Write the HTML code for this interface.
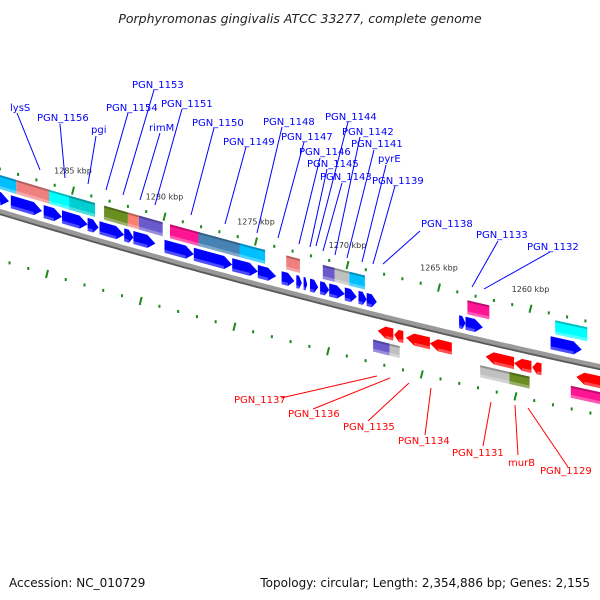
<!DOCTYPE html>
<html><head><meta charset="utf-8"><style>
html,body{margin:0;padding:0;background:#fff}
svg{display:block}
text{font-family:"DejaVu Sans","Liberation Sans",sans-serif}
</style></head><body>
<svg id="map" width="600" height="600" viewBox="0 0 600 600">
<text x="300" y="23" text-anchor="middle" font-size="12.5" font-style="italic" fill="#222">Porphyromonas gingivalis ATCC 33277, complete genome</text>
<text x="9" y="587" font-size="12" fill="#111">Accession: NC_010729</text>
<text x="590" y="587" text-anchor="end" font-size="12" fill="#111">Topology: circular; Length: 2,354,886 bp; Genes: 2,155</text>
<g id="g-back"></g><g id="g-genes"></g><g id="g-labels"></g>
</svg>
<script>
// forward-strand genes [start kbp, end kbp]
const fwdGenes=[[1289.5,1288.5],[1288.4,1286.7],[1286.6,1285.6],[1285.6,1284.2],[1284.2,1283.6],[1283.55,1282.2],[1282.2,1281.7],[1281.7,1280.5],[1280.0,1278.4],[1278.4,1276.3],[1276.3,1274.9],[1274.9,1273.9],[1273.6,1272.9],[1272.8,1272.5],[1272.4,1272.2],[1272.05,1271.6],[1271.5,1271.0],[1271.0,1270.15],[1270.15,1269.5],[1269.4,1268.95],[1268.95,1268.4],[1263.9,1263.55],[1263.55,1262.6],[1258.9,1257.2]];
// forward COG category boxes [start, end, colour]
const fwdCog=[[1289.5,1288.1,'#00bfff'],[1288.1,1286.2,'#f08080'],[1286.3,1285.1,'#00ffff'],[1285.2,1283.8,'#00ced1'],[1283.3,1282.0,'#6b8e23'],[1282.0,1281.4,'#fa8072'],[1281.4,1280.1,'#6a5acd'],[1279.7,1278.05,'#ff1493'],[1278.15,1275.9,'#4682b4'],[1275.9,1274.5,'#00bfff'],[1273.35,1272.6,'#f08080'],[1271.35,1270.7,'#6a5acd'],[1270.7,1269.9,'#c0c0c0'],[1269.9,1269.05,'#00bfff'],[1263.45,1262.25,'#ff1493'],[1258.65,1256.9,'#00ffff']];
// reverse-strand genes
const revGenes=[[1268.35,1267.5],[1267.45,1266.95],[1266.8,1265.5],[1265.5,1264.3],[1262.45,1260.9],[1260.9,1259.95],[1259.9,1259.4],[1257.5,1256.0]];
const revCog=[[1268.6,1267.7,'#6a5acd'],[1267.7,1267.15,'#c0c0c0'],[1262.75,1261.15,'#c0c0c0'],[1261.15,1260.05,'#6b8e23'],[1257.8,1256.0,'#ff1493']];
const tickStart=1256, tickEnd=1291;
const tickLabels=[1285,1280,1275,1270,1265,1260];

const NS='http://www.w3.org/2000/svg';
const X=k=>73+(1285-k)*18.3;
const XB=k=>{const x=X(k);return x-26+(x-73)*0.024;};
const C=x=>212+0.3017*x-7.2e-5*x*x;
function el(tag,attrs,parent){const e=document.createElementNS(NS,tag);for(const a in attrs)e.setAttribute(a,attrs[a]);parent.appendChild(e);return e;}
const back=document.getElementById('g-back'),gg=document.getElementById('g-genes'),gl=document.getElementById('g-labels');
// backbone
let d='';for(let x=-5;x<=605;x+=5)d+=(x<0?'M':'L')+x+','+C(x).toFixed(1);
const bb=el('path',{d:d,stroke:'#999','stroke-width':6,fill:'none'},back);


let d2='';for(let x=-5;x<=605;x+=5)d2+=(x<0?'M':'L')+x+','+(C(x)+2.2).toFixed(1);
el('path',{d:d2,stroke:'#5a5a5a','stroke-width':1.8,fill:'none'},back);
// ticks
for(let k=tickStart;k<=tickEnd;k++){
  const big=k%5===0;
  [[X(k),-43],[XB(k),48]].forEach(([x,o],i)=>{
    if(x<-3||x>603)return;
    const y=C(x)+o;
    const t=el('line',{x1:x+(big?-1:0),y1:y+(big?4:1.5),x2:x+(big?1:0),y2:y-(big?4:1.5),stroke:'#1a8a1a','stroke-width':2},back);
    
    
  });
}
tickLabels.forEach(k=>{
  const x=X(k);
  const t=el('text',{x:x,y:C(x)-60,'text-anchor':'middle','font-size':8,fill:'#333'},back);
  t.textContent=k+' kbp';
  
  
});
function box(x1,x2,o1,o2,fill,name,head){
  const h=head?Math.min(8,(x2-x1)*0.5):0;
  const m=(o1+o2)/2;let pts;
  if(head===1)pts=[[x1,o1],[x2-h,o1],[x2,m],[x2-h,o2],[x1,o2]];
  else if(head===-1)pts=[[x1+h,o1],[x2,o1],[x2,o2],[x1+h,o2],[x1,m]];
  else pts=[[x1,o1],[x2,o1],[x2,o2],[x1,o2]];
  const p=el('polygon',{points:pts.map(q=>q[0].toFixed(1)+','+(C(q[0])+q[1]).toFixed(1)).join(' '),fill:fill},gg);
  
  
  const a=x1+(head===-1?h:0),b=x2-(head===1?h:0);
  const s=[[a,o2-3],[b,o2-3],[b,o2],[a,o2]];
  el('polygon',{points:s.map(q=>q[0].toFixed(1)+','+(C(q[0])+q[1]).toFixed(1)).join(' '),fill:'rgba(255,255,255,0.3)'},gg);
  if(!head){
    const s2=[[a,o1],[b,o1],[b,o1+2],[a,o1+2]];
    el('polygon',{points:s2.map(q=>q[0].toFixed(1)+','+(C(q[0])+q[1]).toFixed(1)).join(' '),fill:'rgba(0,0,0,0.25)'},gg);
  }
}
fwdCog.forEach(g=>box(X(g[0]),X(g[1]),-37,-23,g[2],'forward-cog-box',0));
fwdGenes.forEach(g=>box(X(g[0]),X(g[1]),-20,-7,'#0000ff','forward-gene',1));
revGenes.forEach(g=>box(X(g[0]),X(g[1]),9,21,'#ff0000','reverse-gene',-1));
revCog.forEach(g=>box(X(g[0]),X(g[1]),25,37,g[2],'reverse-cog-box',0));
const blueLabels=[['lysS',10,111,17,113,40,170],['PGN_1156',37,121,60,124,65,178],['pgi',91,133,96,136,88,184],['PGN_1154',106,111,128,113,106,190],['PGN_1153',132,88,154,90,123,195],['rimM',149,131,160,133,140,200],['PGN_1151',161,107,182,109,155,205],['PGN_1150',192,126,214,128,191,215],['PGN_1149',223,145,246,147,225,224],['PGN_1148',263,125,282,127,257,233],['PGN_1147',281,140,304,142,278,238],['PGN_1146',299,155,320,158,299,244],['PGN_1145',307,167,327,169,310,247],['PGN_1143',320,180,342,183,323,251],['PGN_1144',325,120,348,122,316,246],['PGN_1142',342,135,360,137,335,255],['PGN_1141',351,147,374,150,347,258],['pyrE',378,162,386,165,362,262],['PGN_1139',372,184,395,186,373,264],['PGN_1138',421,227,420,231,383,264],['PGN_1133',476,238,498,241,472,287],['PGN_1132',527,250,550,252,484,289]];
const redLabels=[['PGN_1137',234,403,281,398,377,376],['PGN_1136',288,417,313,409,390,378],['PGN_1135',343,430,368,421,409,383],['PGN_1134',398,444,425,435,431,388],['PGN_1131',452,456,483,446,491,402],['murB',508,466,518,455,515,405],['PGN_1129',540,474,568,467,528,408]];
function lab(L,col){
  const ln=el('line',{x1:L[3],y1:L[4],x2:L[5],y2:L[6],stroke:col,'stroke-width':1},gl);
  
  
  const t=el('text',{x:L[1],y:L[2],'font-size':10,fill:col},gl);
  t.textContent=L[0];
  
  
}
blueLabels.forEach(L=>lab(L,'#0000ff'));
redLabels.forEach(L=>lab(L,'#ff0000'));
</script>
</body></html>
